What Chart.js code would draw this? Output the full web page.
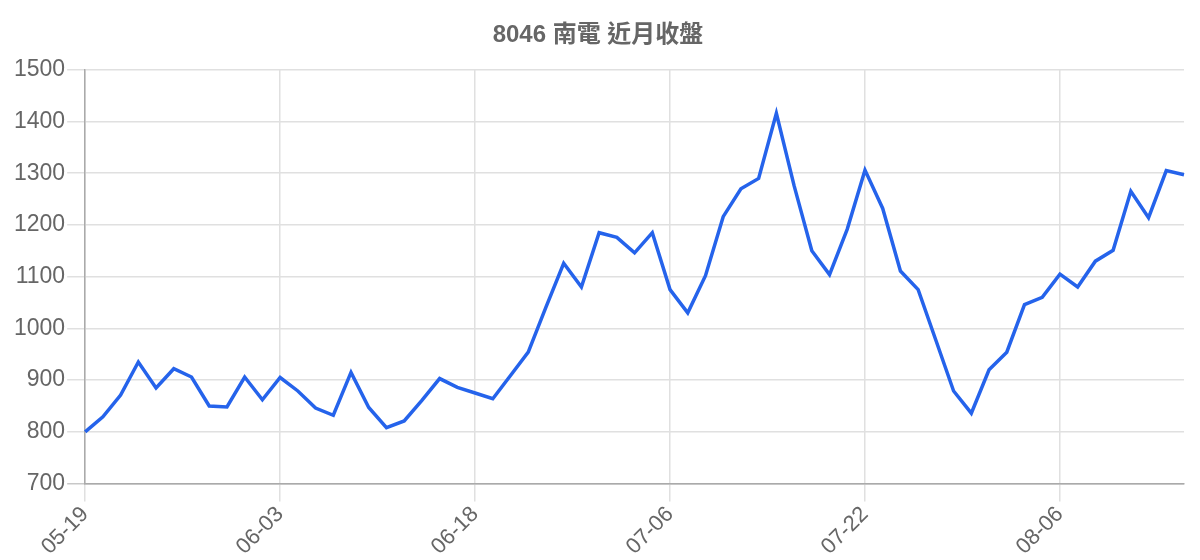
<!DOCTYPE html>
<html>
<head>
<meta charset="utf-8">
<script src="https://cdn.jsdelivr.net/npm/chart.js@4"></script>
<style>
html,body{margin:0;padding:0;background:#fff;}
#wrap{width:1200px;height:560px;}
</style>
</head>
<body>
<div id="wrap"><canvas id="c"></canvas></div>
<script>
const title = '8046 南電 近月收盤';
const dates = [
 '05-19','05-20','05-21','05-24','05-25','05-26','05-27','05-28','05-31','06-01','06-02',
 '06-03','06-04','06-07','06-08','06-09','06-10','06-11','06-14','06-15','06-16','06-17',
 '06-18','06-21','06-22','06-23','06-24','06-28','06-29','06-30','07-01','07-02','07-05',
 '07-06','07-07','07-08','07-12','07-13','07-14','07-15','07-16','07-19','07-20','07-21',
 '07-22','07-23','07-26','07-27','07-28','07-29','07-30','08-02','08-03','08-04','08-05',
 '08-06','08-09','08-10','08-11','08-12','08-13','08-16','08-17'
];
const closes = [
 800,829,871,935,885,922,906,850,848,906,862,
 905,879,846,832,915,847,808,821,861,903,886,
 875,864,909,954,1041,1126,1080,1185,1176,1146,1185,
 1075,1030,1102,1216,1270,1290,1416,1276,1150,1104,1192,
 1306,1232,1111,1075,977,879,836,920,954,1046,1060,
 1105,1080,1130,1151,1265,1214,1305,1297
];
const labelEvery = 11;
const yMin = 700, yMax = 1500, yStep = 100;

Chart.defaults.font.family = '"Liberation Sans", Arial, "Noto Sans CJK TC", sans-serif';
Chart.defaults.color = '#666';

new Chart(document.getElementById('c'), {
  type: 'line',
  data: {
    labels: dates,
    datasets: [{
      label: title,
      data: closes,
      borderColor: '#2563eb',
      borderWidth: 3.5,
      pointRadius: 0,
      tension: 0,
      fill: false
    }]
  },
  options: {
    responsive: true,
    maintainAspectRatio: false,
    animation: false,
    layout: { padding: { left: 12, right: 16, top: 0, bottom: 0 } },
    plugins: {
      legend: { display: false },
      tooltip: { enabled: false },
      title: {
        display: true,
        text: title,
        color: '#666',
        font: { size: 24, weight: 'bold' },
        padding: { top: 21, bottom: 20 }
      }
    },
    scales: {
      x: {
        grid: { color: '#e0e0e0', tickLength: 18, lineWidth: 1.5 },
        border: { color: '#aaa', width: 1.5 },
        ticks: {
          autoSkip: false,
          minRotation: 45,
          maxRotation: 45,
          padding: 0,
          font: { size: 22 },
          callback: function(v, i) { return i % labelEvery === 0 ? this.getLabelForValue(v) : null; }
        }
      },
      y: {
        min: yMin,
        max: yMax,
        grid: { color: function(ctx){ return ctx.tick && ctx.tick.value === yMin ? '#c8c8c8' : '#e0e0e0'; }, tickLength: 18, lineWidth: 1.5 },
        border: { color: '#aaa', width: 1.5 },
        ticks: { stepSize: yStep, padding: 2, font: { size: 23 }, callback: function(v){ return String(v); } }
      }
    }
  }
});
</script>
</body>
</html>
